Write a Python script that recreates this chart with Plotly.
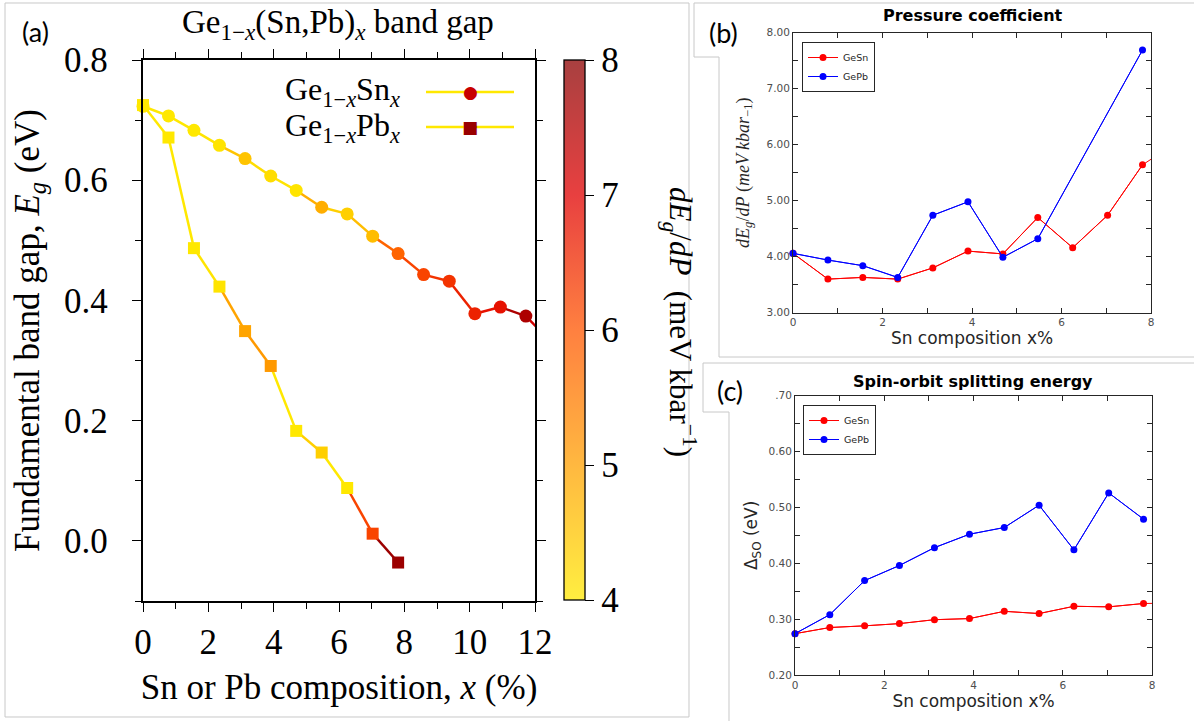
import plotly.graph_objects as go
from plotly.colors import sample_colorscale

W, H = 1194, 721

# ---------------- data: panel (a) ----------------
comp_sn_a = [0, 0.78, 1.56, 2.34, 3.125, 3.91, 4.69, 5.47, 6.25, 7.03, 7.81, 8.59, 9.375, 10.16, 10.94, 11.72, 12.5]
gap_sn = [0.723, 0.707, 0.683, 0.658, 0.636, 0.607, 0.583, 0.555, 0.544, 0.507, 0.478, 0.443, 0.432, 0.378, 0.389, 0.374, 0.33]
dedp_sn_a = [4.06, 4.0, 4.0, 4.05, 4.5, 4.15, 4.05, 4.8, 4.35, 4.6, 5.8, 6.2, 6.4, 6.6, 6.8, 7.6, 7.2]
comp_pb_a = [0, 0.78, 1.56, 2.34, 3.125, 3.91, 4.69, 5.47, 6.25, 7.03, 7.81]
gap_pb = [0.725, 0.671, 0.487, 0.423, 0.349, 0.291, 0.183, 0.147, 0.088, 0.012, -0.036]
dedp_pb_a = [4.0, 4.0, 4.0, 4.05, 4.95, 5.1, 4.0, 4.35, 4.0, 6.2, 7.8]
cbar_ticks = [4, 5, 6, 7, 8]

# ---------------- data: panel (b) ----------------
comp_b_sn = [0, 0.78, 1.56, 2.34, 3.125, 3.91, 4.69, 5.47, 6.25, 7.03, 7.81, 8.59]
press_gesn = [4.06, 3.60, 3.63, 3.60, 3.80, 4.10, 4.05, 4.70, 4.16, 4.74, 5.64, 6.05]
comp_b_pb = [0, 0.78, 1.56, 2.34, 3.125, 3.91, 4.69, 5.47, 7.81]
press_gepb = [4.06, 3.94, 3.84, 3.63, 4.74, 4.98, 3.99, 4.32, 7.69]

# ---------------- data: panel (c) ----------------
comp_c_sn = [0, 0.78, 1.56, 2.34, 3.125, 3.91, 4.69, 5.47, 6.25, 7.03, 7.81, 8.59]
so_gesn = [0.274, 0.285, 0.288, 0.292, 0.299, 0.301, 0.314, 0.310, 0.323, 0.322, 0.328, 0.329]
comp_c_pb = [0, 0.78, 1.56, 2.34, 3.125, 3.91, 4.69, 5.47, 6.25, 7.03, 7.81]
so_gepb = [0.274, 0.308, 0.369, 0.396, 0.428, 0.452, 0.464, 0.504, 0.424, 0.526, 0.479]

# ---------------- styles ----------------
CMIN, CMAX = 4, 8
marker_cs = [[0.0, "#ffe800"], [0.25, "#ffa000"], [0.5, "#ff5500"], [0.75, "#e00000"], [1.0, "#8b0000"]]
faded_cs = [[0.0, "#ffee40"], [0.25, "#ffb840"], [0.5, "#ff8040"], [0.75, "#e84040"], [1.0, "#a84040"]]
SERIF = "Liberation Serif"
SANS = "DejaVu Sans"
RED, BLUE = "#ff0000", "#0000ff"
BIG = 35
NB = "\u00a0"


def px(x):
    return x / W


def py(y):
    return 1 - y / H


def seg_color(v):
    t = min(max((v - CMIN) / (CMAX - CMIN), 0), 1)
    return sample_colorscale(marker_cs, [t])[0]


fig = go.Figure()

# ---- panel (a): coloured segments (colour of the segment end point) ----
for xs, ys, vs in [(comp_sn_a, gap_sn, dedp_sn_a), (comp_pb_a, gap_pb, dedp_pb_a)]:
    for i in range(1, len(xs)):
        fig.add_trace(go.Scatter(x=[xs[i - 1], xs[i]], y=[ys[i - 1], ys[i]], mode="lines",
                                 line=dict(color=seg_color(vs[i]), width=2.5),
                                 showlegend=False, hoverinfo="skip", xaxis="x", yaxis="y"))


def in_range(xs, ys, vs, xmax):
    keep = [i for i, x in enumerate(xs) if x <= xmax]
    return [xs[i] for i in keep], [ys[i] for i in keep], [vs[i] for i in keep]


sx, sy, sv = in_range(comp_sn_a, gap_sn, dedp_sn_a, 12)
fig.add_trace(go.Scatter(x=sx, y=sy, mode="markers", cliponaxis=False,
                         marker=dict(symbol="circle", size=13, color=sv, colorscale=marker_cs,
                                     cmin=CMIN, cmax=CMAX, showscale=False),
                         showlegend=False, xaxis="x", yaxis="y"))
fig.add_trace(go.Scatter(x=comp_pb_a, y=gap_pb, mode="markers", cliponaxis=False,
                         marker=dict(symbol="square", size=12, color=dedp_pb_a, colorscale=marker_cs,
                                     cmin=CMIN, cmax=CMAX, showscale=False),
                         showlegend=False, xaxis="x", yaxis="y"))
# colour bar (drawn slightly faded, as in the reference)
fig.add_trace(go.Scatter(x=[None], y=[None], mode="markers", xaxis="x", yaxis="y", showlegend=False,
                         marker=dict(color=[CMIN], colorscale=faded_cs, cmin=CMIN, cmax=CMAX, showscale=True,
                                     colorbar=dict(x=px(564), xanchor="left", xpad=0, ypad=0,
                                                   y=py(330), yanchor="middle", len=(600 - 60) / H,
                                                   lenmode="fraction", thickness=21,
                                                   outlinecolor="black", outlinewidth=1.3,
                                                   tickmode="array", tickvals=cbar_ticks,
                                                   ticks="outside", ticklen=9, tickcolor="black",
                                                   tickwidth=1.3, tickprefix=NB * 2,
                                                   tickfont=dict(family=SERIF, size=BIG, color="black")))))


# ---- panels (b) and (c) ----
def add_pair(xs1, ys1, xs2, ys2, xa, ya, lg):
    for xs, ys, col in [(xs1, ys1, RED), (xs2, ys2, BLUE)]:
        fig.add_trace(go.Scatter(x=xs, y=ys, mode="lines", line=dict(color=col, width=1),
                                 showlegend=False, xaxis=xa, yaxis=ya, hoverinfo="skip"))
    for xs, ys, col, name in [(xs1, ys1, RED, "GeSn"), (xs2, ys2, BLUE, "GePb")]:
        keep = [i for i, x in enumerate(xs) if x <= 8]
        fig.add_trace(go.Scatter(x=[xs[i] for i in keep], y=[ys[i] for i in keep], mode="lines+markers",
                                 cliponaxis=False, name=name,
                                 line=dict(color=col, width=1), marker=dict(color=col, size=7),
                                 xaxis=xa, yaxis=ya, legend=lg))


add_pair(comp_b_sn, press_gesn, comp_b_pb, press_gepb, "x2", "y2", "legend")
add_pair(comp_c_sn, so_gesn, comp_c_pb, so_gepb, "x3", "y3", "legend2")

# ---------------- axes ----------------
ax_a = dict(showline=True, linecolor="black", linewidth=1.5, mirror="ticks", ticks="outside",
            tickcolor="black", tickwidth=1.3, ticklen=9, showgrid=False, zeroline=False,
            tickfont=dict(family=SERIF, size=BIG, color="black"))
ml_tick = dict(showline=True, linecolor="#262626", linewidth=1, mirror="ticks", ticks="inside",
               tickcolor="#262626", ticklen=5, showgrid=False, zeroline=False,
               tickfont=dict(family=SANS, size=10.5, color="#4d4d4d"))

fig.update_layout(
    width=W, height=H, margin=dict(l=0, r=0, t=0, b=0, pad=0, autoexpand=False),
    paper_bgcolor="white", plot_bgcolor="white",
    xaxis=dict(ax_a, domain=[px(143), px(535)], range=[0, 12], dtick=2, tick0=0,
               minor=dict(dtick=1, ticks="outside", ticklen=6, tickcolor="black", tickwidth=1.3),
               title=dict(text="Sn or Pb composition, <i>x</i> (%)", standoff=14,
                          font=dict(family=SERIF, size=BIG, color="black")), anchor="y"),
    yaxis=dict(ax_a, domain=[py(601), py(60)], range=[-0.1, 0.8], dtick=0.2, tick0=0, tickformat=".1f",
               ticksuffix=NB * 2,
               minor=dict(dtick=0.1, ticks="outside", ticklen=6, tickcolor="black", tickwidth=1.3),
               title=dict(text="Fundamental band gap, <i>E<sub>g</sub></i> (eV)", standoff=14,
                          font=dict(family=SERIF, size=BIG, color="black")), anchor="x"),
    xaxis2=dict(ml_tick, domain=[px(793), px(1151)], range=[0, 8], dtick=2, tick0=0,
                minor=dict(dtick=1, ticks="inside", ticklen=5, tickcolor="#262626"),
                title=dict(text="Sn composition x%", standoff=4,
                           font=dict(family=SANS, size=17, color="#262626")), anchor="y2"),
    yaxis2=dict(ml_tick, domain=[py(312.7), py(32.7)], range=[3, 8], dtick=1, tick0=3, tickformat=".2f",
                minor=dict(dtick=0.5, ticks="inside", ticklen=5, tickcolor="#262626"),
                title=dict(text="<i>dE<sub>g</sub></i>/<i>dP</i> (<i>meV kbar</i><sub>−1</sub>)", standoff=12,
                           font=dict(family=SERIF, size=18, color="#262626")), anchor="x2"),
    xaxis3=dict(ml_tick, domain=[px(795), px(1152)], range=[0, 8], dtick=2, tick0=0,
                minor=dict(dtick=1, ticks="inside", ticklen=5, tickcolor="#262626"),
                title=dict(text="Sn composition x%", standoff=4,
                           font=dict(family=SANS, size=17, color="#262626")), anchor="y3"),
    yaxis3=dict(ml_tick, domain=[py(675), py(395.7)], range=[0.2, 0.7], dtick=0.1, tick0=0.2,
                tickformat=".2f", labelalias={"0.70": ".70"},
                minor=dict(dtick=0.05, ticks="inside", ticklen=5, tickcolor="#262626"),
                title=dict(text="Δ<sub>SO</sub> (eV)", standoff=6,
                           font=dict(family=SANS, size=17, color="#262626")), anchor="x3"),
    legend=dict(x=px(802), y=py(42), xanchor="left", yanchor="top", bordercolor="#262626",
                borderwidth=1, bgcolor="white", font=dict(family=SANS, size=9.5, color="#262626"),
                itemwidth=30, tracegroupgap=0, traceorder="normal"),
    legend2=dict(x=px(803), y=py(405), xanchor="left", yanchor="top", bordercolor="#262626",
                 borderwidth=1, bgcolor="white", font=dict(family=SANS, size=9.5, color="#262626"),
                 itemwidth=30, tracegroupgap=0, traceorder="normal"),
)

# ---------------- titles / labels ----------------
ann = []


def add_text(text, x, y, font, xanchor="center", textangle=0):
    ann.append(dict(text=text, x=px(x), y=py(y), xref="paper", yref="paper", showarrow=False,
                    xanchor=xanchor, yanchor="middle", textangle=textangle, font=font))


add_text("Ge<sub>1−<i>x</i></sub>(Sn,Pb)<sub><i>x</i></sub> band gap", 338, 25,
         dict(family=SERIF, size=33, color="black"))
add_text("<i>dE<sub>g</sub></i>/<i>dP</i>  (meV kbar<sup>−1</sup>)", 680, 322,
         dict(family=SERIF, size=31, color="black"), textangle=90)
add_text("<b>Pressure coefficient</b>", 973, 16, dict(family=SANS, size=16, color="black"))
add_text("<b>Spin-orbit splitting energy</b>", 973, 381, dict(family=SANS, size=16, color="black"))
for lab, lx, ly in [("(a)", 35, 32), ("(b)", 723, 33), ("(c)", 730, 390)]:
    add_text(lab, lx, ly, dict(family="Lato", size=27, color="black"))
# legend of panel (a)
for txt, yy, sym, col in [("Ge<sub>1−<i>x</i></sub>Sn<sub><i>x</i></sub>", 92, "●", "#c80000"),
                          ("Ge<sub>1−<i>x</i></sub>Pb<sub><i>x</i></sub>", 127, "■", "#990000")]:
    add_text(txt, 402, yy, dict(family=SERIF, size=32, color="black"), xanchor="right")
    add_text(sym, 470, yy, dict(family=SANS, size=17, color=col))
fig.update_layout(annotations=ann)

shapes = []
for yy in [92, 127]:
    shapes.append(dict(type="line", xref="paper", yref="paper", x0=px(426), x1=px(514), y0=py(yy), y1=py(yy),
                       line=dict(color="#ffe800", width=2.5), layer="below"))


def path(points):
    return "M " + " L ".join(f"{px(a):.5f},{py(b):.5f}" for a, b in points)


frame = dict(color="#c8c8c8", width=1)
shapes.append(dict(type="path", xref="paper", yref="paper",
                   path=path([(5, 3), (689, 3), (689, 717), (5, 717)]) + " Z", line=frame))
shapes.append(dict(type="path", xref="paper", yref="paper",
                   path=path([(1194, 3), (694, 3), (694, 57), (719, 57), (719, 357), (1194, 357)]), line=frame))
shapes.append(dict(type="path", xref="paper", yref="paper",
                   path=path([(1194, 363), (703, 363), (703, 412), (729, 412), (729, 721)]), line=frame))
fig.update_layout(shapes=shapes)

fig.write_html("out.html")
